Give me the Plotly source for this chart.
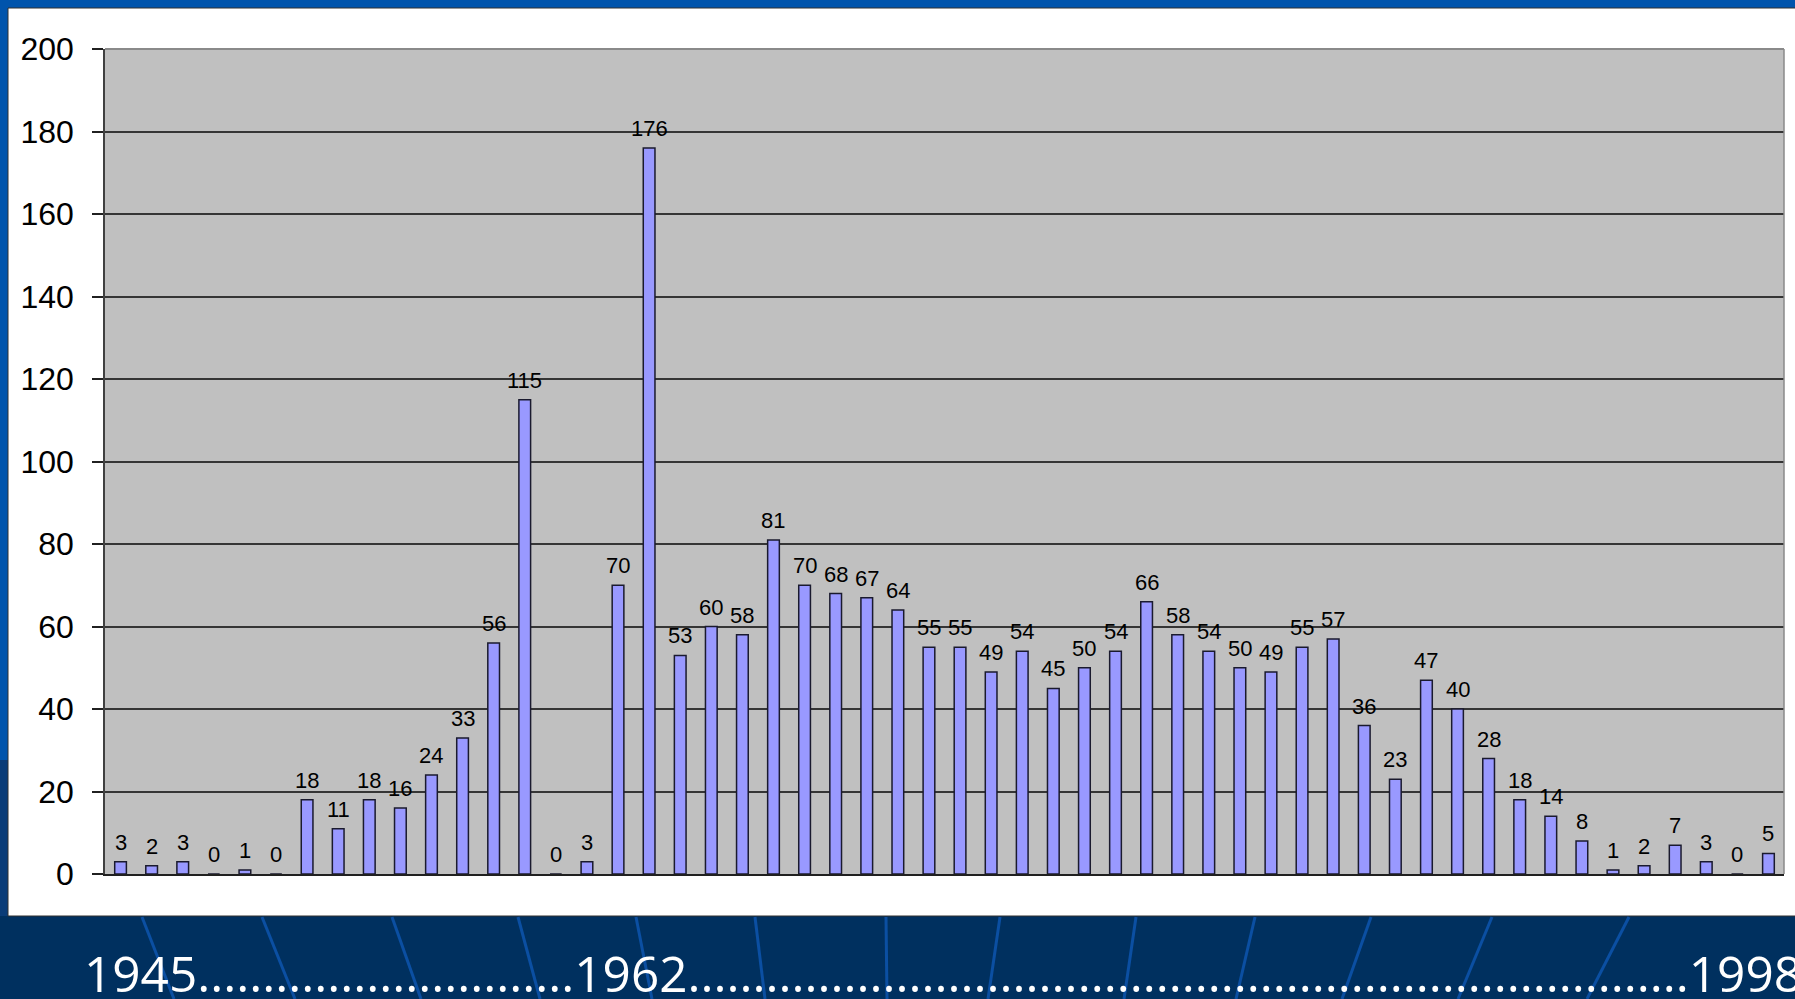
import plotly.graph_objects as go

# yearly counts, 1945 .. 1998
years = list(range(1945, 1999))
counts = [3, 2, 3, 0, 1, 0, 18, 11, 18, 16, 24, 33, 56, 115, 0, 3, 70, 176,
          53, 60, 58, 81, 70, 68, 67, 64, 55, 55, 49, 54, 45, 50, 54, 66,
          58, 54, 50, 49, 55, 57, 36, 23, 47, 40, 28, 18, 14, 8, 1, 2, 7, 3, 0, 5]
y_ticks = [0, 20, 40, 60, 80, 100, 120, 140, 160, 180, 200]
footer = "1945" + "." * 29 + "1962" + "." * 77 + "1998"

W, H = 1795, 999
ML, MR, MT, MB = 105, 11, 49, 125

# pixel -> paper helpers for the slide decoration
def px_x(p):
    return (p - ML) / (W - ML - MR)

def px_y(p):
    return (H - MB - p) / (H - MT - MB)

fig = go.Figure()
fig.add_trace(go.Bar(
    x=years,
    y=counts,
    marker=dict(color='#9999FF', line=dict(color='#1a1a2e', width=1.5)),
    showlegend=False,
    hoverinfo='x+y'
))

# value labels above bars
for yr, v in zip(years, counts):
    fig.add_annotation(
        x=yr, y=v, text=str(v), showarrow=False,
        yanchor='bottom', yshift=5,
        font=dict(family='Liberation Sans, Arial', size=22, color='black')
    )

# slide background pieces
shapes = [
    dict(type='rect', xref='paper', yref='paper', layer='below',
         x0=px_x(0), x1=px_x(W), y0=px_y(0), y1=px_y(8),
         fillcolor='#0054AC', line_width=0),
    dict(type='rect', xref='paper', yref='paper', layer='below',
         x0=px_x(0), x1=px_x(8), y0=px_y(0), y1=px_y(760),
         fillcolor='#0054AC', line_width=0),
    dict(type='rect', xref='paper', yref='paper', layer='below',
         x0=px_x(0), x1=px_x(8), y0=px_y(760), y1=px_y(916),
         fillcolor='#0A3C78', line_width=0),
    dict(type='rect', xref='paper', yref='paper', layer='below',
         x0=px_x(8), x1=px_x(W + 5), y0=px_y(8), y1=px_y(916),
         fillcolor='white', line=dict(color='#303030', width=1)),
    dict(type='rect', xref='paper', yref='paper', layer='below',
         x0=0, x1=1, y0=0, y1=1,
         fillcolor='#C0C0C0', line_width=0),
]

# decorative streaks in the lower band (top x, bottom x)
streaks = [(142, 174), (262, 295), (392, 421), (518, 540), (636, 652),
           (755, 765), (886, 887), (1000, 988), (1136, 1124), (1255, 1236),
           (1371, 1342), (1492, 1458), (1629, 1587)]
for xt, xb in streaks:
    shapes.append(dict(type='line', xref='paper', yref='paper', layer='below',
                       x0=px_x(xt), x1=px_x(xb), y0=px_y(917), y1=px_y(H),
                       line=dict(color='#0B4FA2', width=3)))

# gray plot border on top and right
shapes.append(dict(type='line', xref='paper', yref='paper', layer='above',
                   x0=0, x1=1, y0=1, y1=1, line=dict(color='#8a8a8a', width=2)))
shapes.append(dict(type='line', xref='paper', yref='paper', layer='above',
                   x0=1, x1=1, y0=0, y1=1, line=dict(color='#8a8a8a', width=1.5)))

fig.add_annotation(
    xref='paper', yref='paper', x=px_x(82), y=px_y(973),
    xanchor='left', yanchor='middle', showarrow=False,
    text=footer,
    font=dict(family='Open Sans', size=49.5, color='white')
)

fig.update_layout(
    width=W, height=H,
    margin=dict(l=ML, r=MR, t=MT, b=MB),
    paper_bgcolor='#00305F',
    plot_bgcolor='#C0C0C0',
    bargap=0.624,
    shapes=shapes,
)

fig.update_xaxes(
    range=[1944.5, 1998.5],
    showticklabels=False, ticks='', showgrid=False, zeroline=False,
    showline=True, linecolor='#202020', linewidth=1.5
)
fig.update_yaxes(
    range=[0, 200], tickvals=y_ticks,
    ticks='outside', ticklen=11, tickwidth=1.5, tickcolor='#202020',
    ticklabelstandoff=12,
    tickfont=dict(family='Liberation Sans, Arial', size=32, color='black'),
    showgrid=True, gridcolor='#353535', gridwidth=2,
    zeroline=False, showline=True, linecolor='#404040', linewidth=1.5
)

# page body has a default margin; drop it so the figure fills the window
fig.write_html("out.html", config={'displayModeBar': False},
               post_script="document.body.style.margin='0px';")
